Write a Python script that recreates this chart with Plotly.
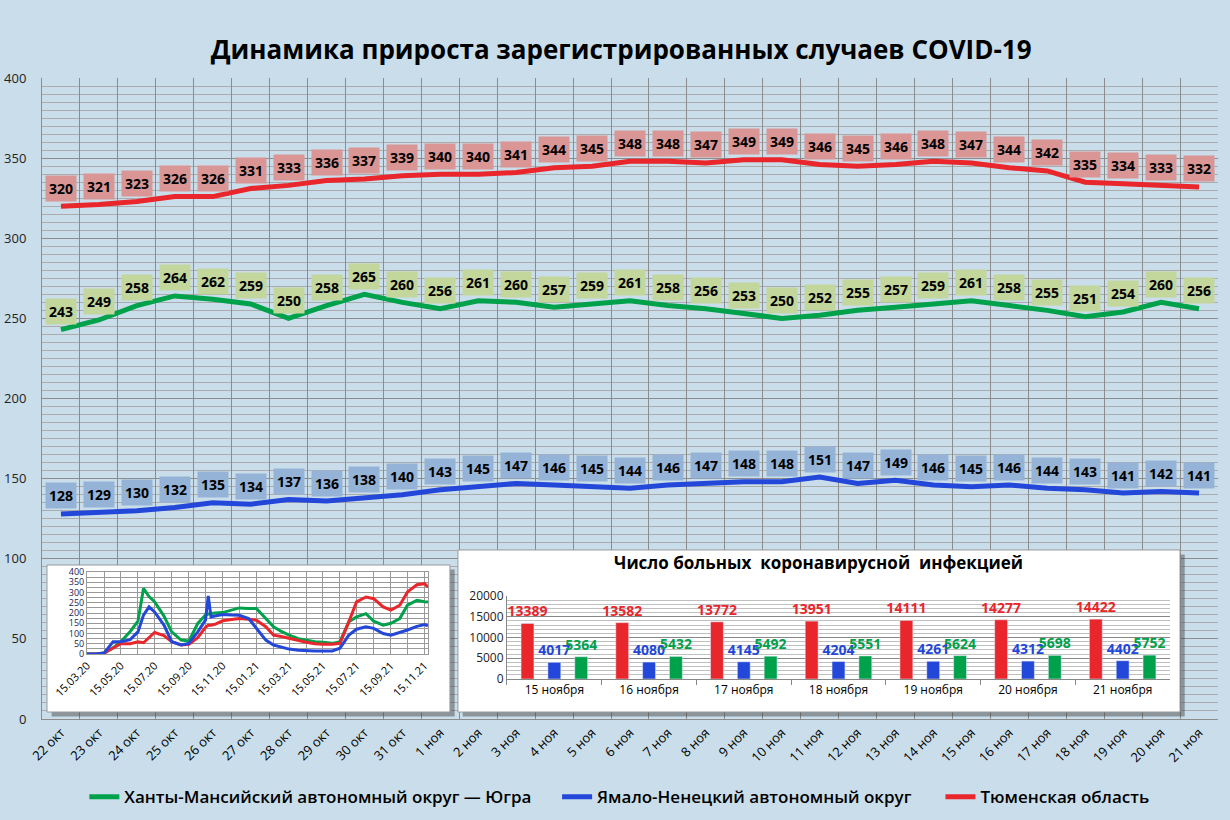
import plotly.graph_objects as go

# Main chart: daily growth, 22 Oct - 21 Nov
days = ['22 окт', '23 окт', '24 окт', '25 окт', '26 окт', '27 окт', '28 окт', '29 окт',
        '30 окт', '31 окт', '1 ноя', '2 ноя', '3 ноя', '4 ноя', '5 ноя', '6 ноя', '7 ноя',
        '8 ноя', '9 ноя', '10 ноя', '11 ноя', '12 ноя', '13 ноя', '14 ноя', '15 ноя',
        '16 ноя', '17 ноя', '18 ноя', '19 ноя', '20 ноя', '21 ноя']
hmao = [243, 249, 258, 264, 262, 259, 250, 258, 265, 260, 256, 261, 260, 257, 259, 261,
        258, 256, 253, 250, 252, 255, 257, 259, 261, 258, 255, 251, 254, 260, 256]
yanao = [128, 129, 130, 132, 135, 134, 137, 136, 138, 140, 143, 145, 147, 146, 145, 144,
         146, 147, 148, 148, 151, 147, 149, 146, 145, 146, 144, 143, 141, 142, 141]
tyumen = [320, 321, 323, 326, 326, 331, 333, 336, 337, 339, 340, 340, 341, 344, 345, 348,
          348, 347, 349, 349, 346, 345, 346, 348, 347, 344, 342, 335, 334, 333, 332]

# Small inset: whole history
hist_dates = ['2020-03-15', '2020-04-01', '2020-04-15', '2020-05-01', '2020-05-15', '2020-06-01',
              '2020-06-15', '2020-06-25', '2020-07-05', '2020-07-15', '2020-08-01', '2020-08-15',
              '2020-09-01', '2020-09-15', '2020-10-01', '2020-10-15', '2020-10-20', '2020-10-25',
              '2020-11-01', '2020-11-15', '2020-12-01', '2020-12-15', '2021-01-01', '2021-01-15',
              '2021-02-01', '2021-02-15', '2021-03-01', '2021-03-15', '2021-04-01', '2021-04-15',
              '2021-05-01', '2021-05-15', '2021-06-01', '2021-06-15', '2021-07-01', '2021-07-15',
              '2021-08-01', '2021-08-15', '2021-09-01', '2021-09-15', '2021-10-01', '2021-10-15',
              '2021-11-01', '2021-11-15', '2021-11-21']
hist_hmao = [0, 0, 5, 30, 60, 110, 160, 320, 280, 255, 185, 108, 68, 63, 149, 190, 195, 198,
             200, 202, 215, 225, 222, 222, 173, 133, 110, 92, 75, 68, 60, 57, 52, 60, 157,
             181, 197, 160, 141, 150, 173, 238, 262, 255, 254]
hist_yanao = [0, 0, 5, 60, 60, 70, 108, 190, 230, 205, 141, 60, 44, 52, 108, 165, 283, 181,
              185, 193, 190, 189, 173, 125, 68, 44, 35, 24, 18, 15, 15, 15, 15, 28, 92,
              121, 133, 125, 100, 92, 105, 117, 135, 144, 138]
hist_tyumen = [0, 0, 5, 30, 50, 50, 60, 55, 80, 105, 90, 60, 44, 47, 80, 130, 140, 140,
               145, 162, 168, 173, 170, 165, 133, 92, 85, 76, 65, 57, 50, 47, 48, 52, 157,
               254, 278, 270, 230, 214, 238, 303, 338, 343, 327]
hist_ticks = ['2020-03-15', '2020-05-15', '2020-07-15', '2020-09-15', '2020-11-15', '2021-01-15',
              '2021-03-15', '2021-05-15', '2021-07-15', '2021-09-15', '2021-11-15']
hist_ticklabels = ['15.03.20', '15.05.20', '15.07.20', '15.09.20', '15.11.20', '15.01.21',
                   '15.03.21', '15.05.21', '15.07.21', '15.09.21', '15.11.21']

# Bar inset: number of patients
bar_days = ['15 ноября', '16 ноября', '17 ноября', '18 ноября', '19 ноября', '20 ноября', '21 ноября']
bar_tyumen = [13389, 13582, 13772, 13951, 14111, 14277, 14422]
bar_yanao = [4017, 4080, 4145, 4204, 4261, 4312, 4402]
bar_hmao = [5364, 5432, 5492, 5551, 5624, 5698, 5752]

FONT = 'Open Sans'
GREEN, BLUE, RED = '#00a14b', '#2347d9', '#e8262b'
BG = '#c9deea'
YMAX = 400

fig = go.Figure()

# each series gets its own legend so the three entries sit where the original has them
main = [('Ханты-Мансийский автономный округ — Югра', hmao, GREEN, '#c3d69b', 'legend', 0.036),
        ('Ямало-Ненецкий автономный округ', yanao, BLUE, '#95b3d7', 'legend2', 0.438),
        ('Тюменская область', tyumen, RED, '#d99694', 'legend3', 0.764)]

annotations = []
legends = {}
for name, vals, col, box, leg, lx in main:
    fig.add_trace(go.Scatter(x=days, y=vals, mode='lines', name=name, legend=leg,
                             line=dict(color=col, width=5)))
    legends[leg] = dict(orientation='h', x=lx, xanchor='left', y=-0.122, yanchor='middle',
                        bgcolor='rgba(0,0,0,0)', itemwidth=30,
                        font=dict(family=FONT, size=17, color='black', weight=600))
    for d, v in zip(days, vals):
        annotations.append(dict(x=d, y=v, xref='x', yref='y', yshift=18, text=str(v),
                                showarrow=False, bgcolor=box, borderpad=3,
                                font=dict(family=FONT, size=14, color='black', weight='bold')))

for vals, col in [(hist_hmao, GREEN), (hist_tyumen, RED), (hist_yanao, BLUE)]:
    fig.add_trace(go.Scatter(x=hist_dates, y=vals, mode='lines', showlegend=False,
                             line=dict(color=col, width=3), xaxis='x2', yaxis='y2'))

for vals, col in [(bar_tyumen, RED), (bar_yanao, BLUE), (bar_hmao, GREEN)]:
    fig.add_trace(go.Bar(x=bar_days, y=vals, marker_color=col, showlegend=False,
                         text=[str(v) for v in vals], textposition='outside',
                         constraintext='none', cliponaxis=False,
                         textfont=dict(family=FONT, size=14, color=col, weight='bold'),
                         xaxis='x3', yaxis='y3'))

annotations.append(dict(x=0.6607, y=0.2231, xref='paper', yref='paper', showarrow=False,
                        text='Число больных  коронавирусной  инфекцией',
                        font=dict(family=FONT, size=17, color='black', weight='bold')))

# white inset panels with a soft shadow (drawn above the main grid, below the insets)
n = len(days)
shapes = []
for x0, x1, y0, y1 in [(0.00425, 0.3469, 0.0109, 0.2402), (0.3537, 0.9677, 0.0109, 0.2637)]:
    for dx, dy, fill, line in [(0.004, -0.007, 'rgba(60,60,60,0.45)', dict(width=0)),
                               (0, 0, 'white', dict(color='#9a9a9a', width=1))]:
        shapes.append(dict(type='rect', xref='x', yref='y', layer='between',
                           x0=-0.5 + (x0 + dx) * n, x1=-0.5 + (x1 + dx) * n,
                           y0=(y0 + dy) * YMAX, y1=(y1 + dy) * YMAX,
                           fillcolor=fill, line=line))

fig.update_layout(
    width=1230, height=820,
    margin=dict(l=42, r=12, t=78, b=101, autoexpand=False),
    paper_bgcolor=BG, plot_bgcolor='rgba(0,0,0,0)',
    font=dict(family=FONT, color='#222'),
    title=dict(text='Динамика прироста зарегистрированных случаев COVID-19',
               x=0.505, xref='container', y=0.939, yanchor='middle',
               font=dict(family=FONT, size=26, color='black', weight='bold')),
    showlegend=True,
    barmode='group', bargap=0.15, bargroupgap=0.52,
    annotations=annotations, shapes=shapes,
    xaxis=dict(type='category', tickson='boundaries', showgrid=True, gridcolor='#8c8c8c',
               tickangle=-45, tickfont=dict(size=13, color='black'), ticks='', automargin=False,
               showline=True, linecolor='#8c8c8c', range=[-0.5, n - 0.5]),
    yaxis=dict(range=[0, YMAX], dtick=50, gridcolor='#8c8c8c', zeroline=False, automargin=False,
               showline=True, linecolor='#8c8c8c', ticklabelstandoff=12,
               tickfont=dict(size=13, color='#222'),
               minor=dict(dtick=5, showgrid=True, gridcolor='#ababab', gridwidth=0.6)),
    xaxis2=dict(domain=[0.0383, 0.3282], anchor='y2', type='date', automargin=False,
                range=['2020-03-15', '2021-11-21'], tickvals=hist_ticks, ticktext=hist_ticklabels,
                tickangle=-45, tickfont=dict(size=11, color='black'), showgrid=True,
                gridcolor='#999', showline=True, mirror=True, linecolor='#999',
                minor=dict(dtick='M1', tick0='2020-03-15', showgrid=True, gridcolor='#999')),
    yaxis2=dict(domain=[0.1014, 0.2293], anchor='x2', range=[0, 400], dtick=50, automargin=False,
                gridcolor='#999', zeroline=False, showline=True, mirror=True, linecolor='#999',
                tickfont=dict(size=9, color='#1b1b55'),
                minor=dict(dtick=25, showgrid=True, gridcolor='#999')),
    xaxis3=dict(domain=[0.3954, 0.9592], anchor='y3', type='category', tickson='boundaries',
                ticks='outside', ticklen=5, tickcolor='#888', showgrid=False, automargin=False,
                showline=True, linecolor='#888', tickfont=dict(size=12, color='black')),
    yaxis3=dict(domain=[0.0624, 0.1919], anchor='x3', range=[0, 20000], dtick=5000,
                tickformat='d', gridcolor='#888', zeroline=False, showline=True, linecolor='#888',
                tickfont=dict(size=12, color='#222'), automargin=False,
                minor=dict(dtick=1000, showgrid=True, gridcolor='#c0c0c0')),
    **legends,
)

# drop the page's default body margin so the chart sits flush in the window
fig.write_html('out.html', config={'displayModeBar': False},
               post_script="document.body.style.margin='0';"
                           f"document.body.style.background='{BG}';")
